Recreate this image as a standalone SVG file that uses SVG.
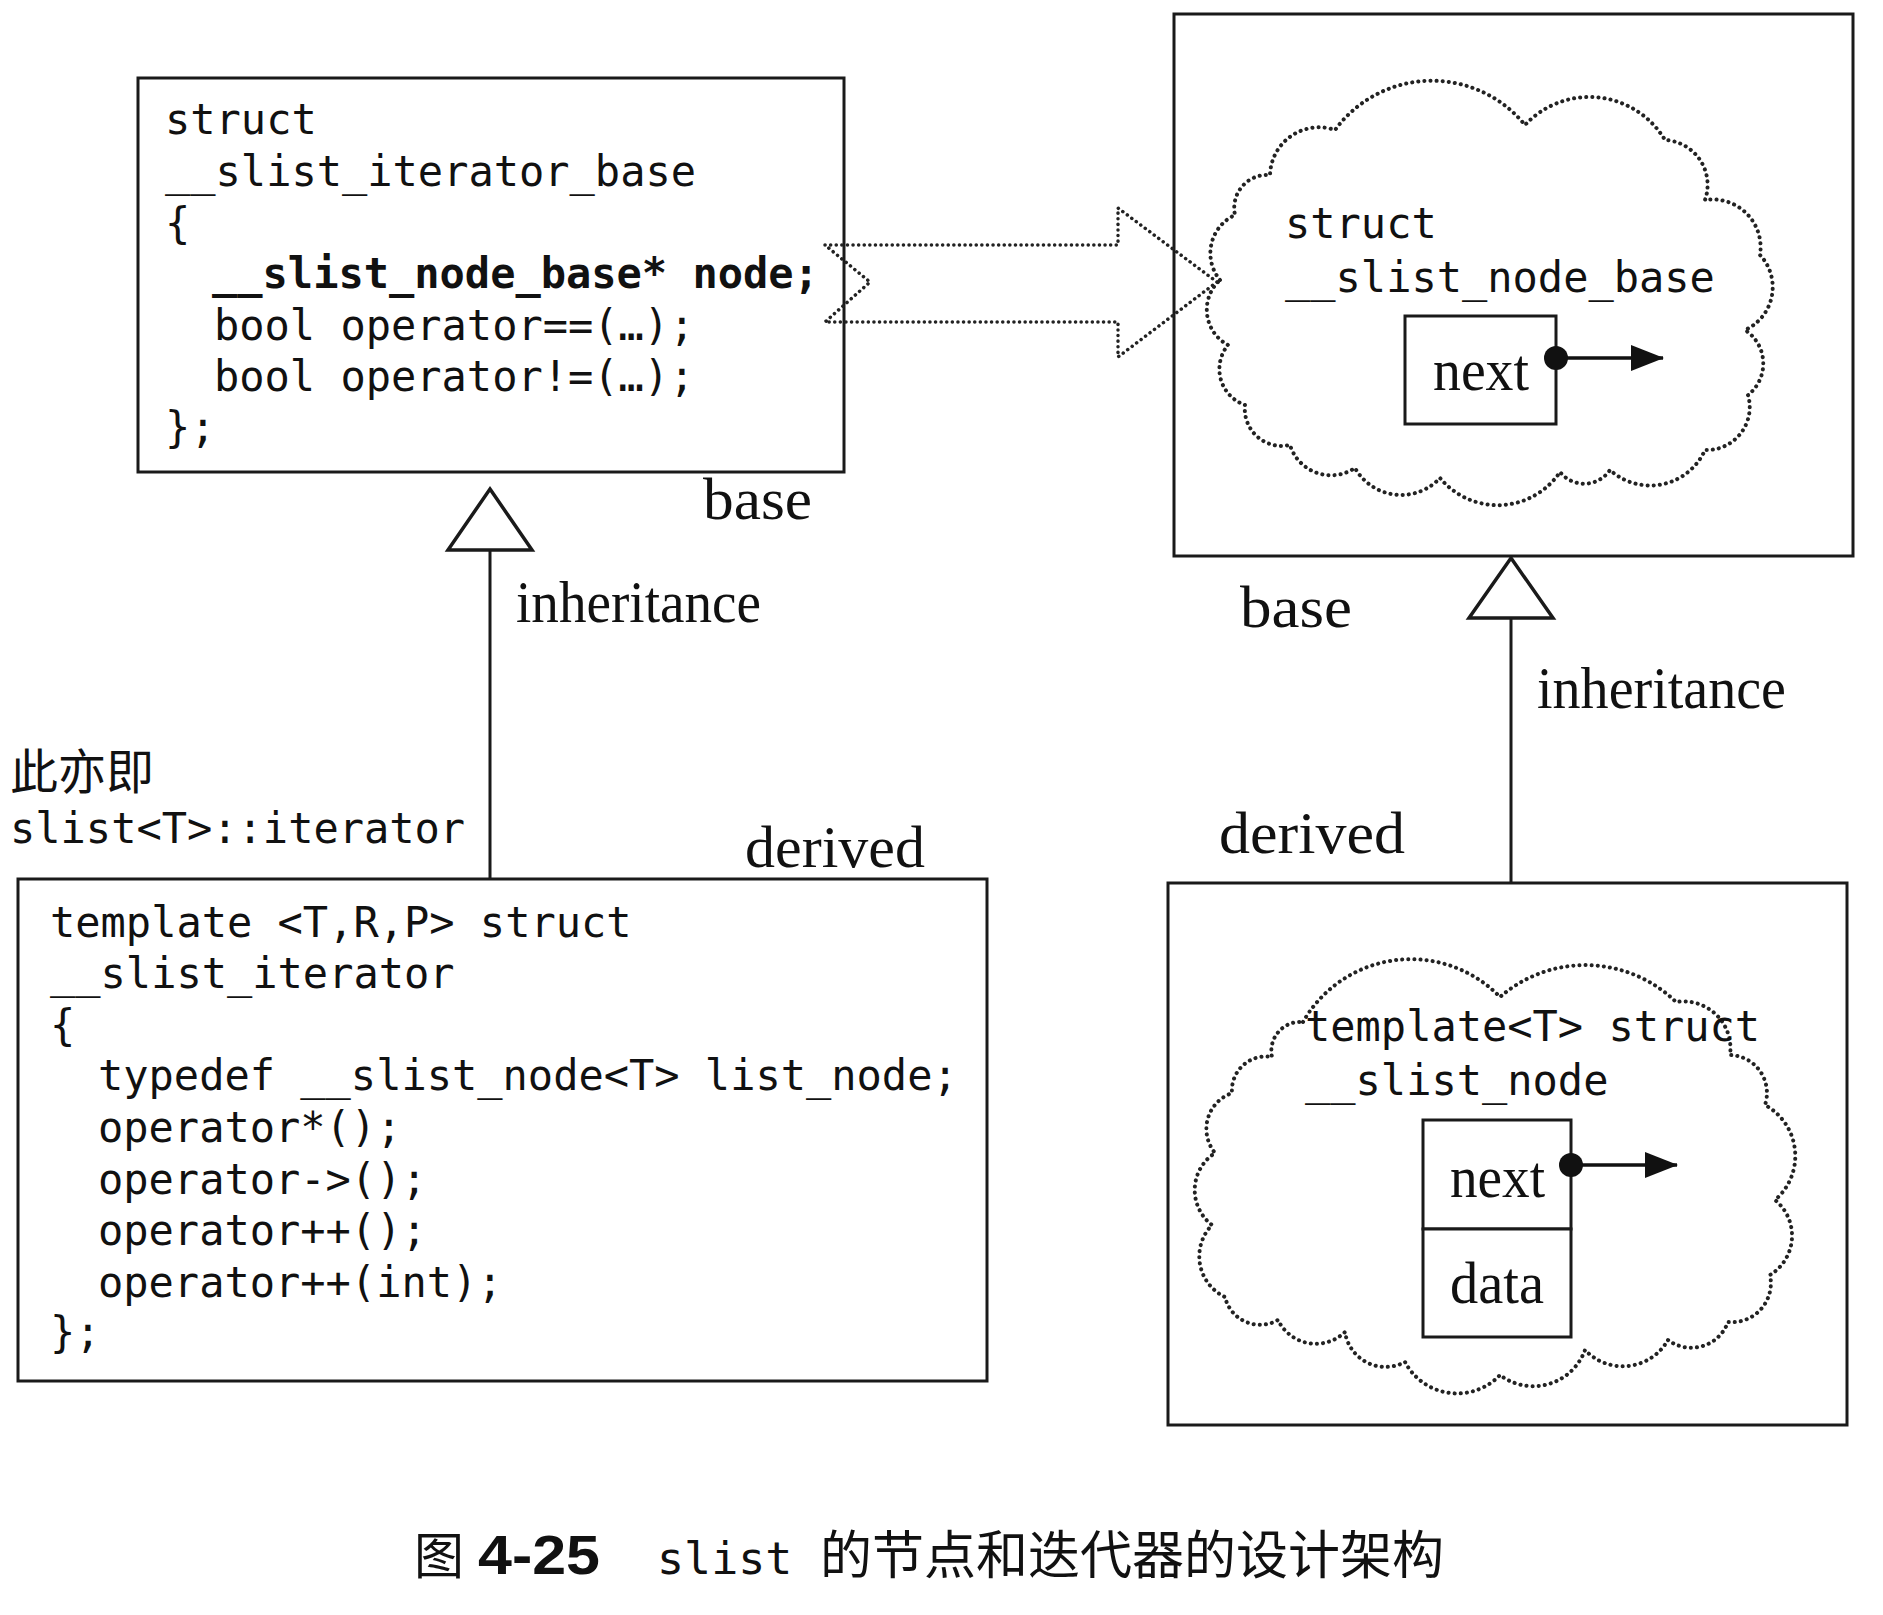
<svg xmlns="http://www.w3.org/2000/svg" width="1883" height="1615" viewBox="0 0 1883 1615">
<style>
.box{fill:none;stroke:#1a1a1a;stroke-width:3}
.cell{fill:#fff;stroke:#1a1a1a;stroke-width:3}
.code{font-family:"DejaVu Sans Mono","Liberation Mono",monospace;font-size:42px;fill:#111}
.lbl{font-family:"Liberation Serif","Times New Roman",serif;font-size:60px;fill:#111}
.cloud{fill:#fff;stroke:#222;stroke-width:4;stroke-dasharray:0.1 6;stroke-linecap:round;stroke-linejoin:round}
.dotted{fill:none;stroke:#222;stroke-width:3.5;stroke-dasharray:0.1 5.5;stroke-linecap:round}
.line{fill:none;stroke:#1a1a1a;stroke-width:3}
.tri{fill:#fff;stroke:#1a1a1a;stroke-width:3.5;stroke-linejoin:miter}
.ptr{fill:none;stroke:#111;stroke-width:3.5}
.cjk{font-family:"Noto Sans CJK SC",sans-serif;fill:#111}
</style>
<defs>
<marker id="ah" markerUnits="userSpaceOnUse" markerWidth="34" markerHeight="28" refX="32" refY="13" orient="auto">
<path d="M0,0 L33,13 L0,26 z" fill="#111"/>
</marker>
</defs>
<rect width="1883" height="1615" fill="#fff"/>

<g id="iterator_base">
<rect class="box" x="138" y="78" width="706" height="394"/>
<text class="code" x="165" y="134">struct</text>
<text class="code" x="165" y="186">__slist_iterator_base</text>
<text class="code" x="165" y="238">{</text>
<text class="code" x="212" y="288" font-weight="bold">__slist_node_base* node;</text>
<text class="code" x="214" y="340">bool operator==(…);</text>
<text class="code" x="214" y="391">bool operator!=(…);</text>
<text class="code" x="165" y="442">};</text>
</g>

<g id="node_base">
<rect class="box" x="1174" y="14" width="679" height="542"/>
<path class="cloud" d="M1220,280 A42,42 0 0 1 1235,215 A33,33 0 0 1 1270,175 A49,49 0 0 1 1335,130 A120,120 0 0 1 1525,125 A88,88 0 0 1 1665,140 A45,45 0 0 1 1705,200 A48,48 0 0 1 1760,255 A47,47 0 0 1 1745,330 A40,40 0 0 1 1748,395 A43,43 0 0 1 1705,450 A60,60 0 0 1 1610,470 A31,31 0 0 1 1560,472 A75,75 0 0 1 1440,478 A53,53 0 0 1 1355,468 A43,43 0 0 1 1290,445 A37,37 0 0 1 1245,405 A38,38 0 0 1 1228,345 A40,40 0 0 1 1220,280 Z"/>
<text class="code" x="1285" y="238">struct</text>
<text class="code" x="1285" y="292">__slist_node_base</text>
<rect class="cell" x="1405" y="316" width="151" height="108"/>
<text class="lbl" x="1433" y="390" textLength="96" lengthAdjust="spacingAndGlyphs">next</text>
<line class="ptr" x1="1556" y1="358" x2="1663" y2="358" marker-end="url(#ah)"/>
<circle cx="1556" cy="358" r="12" fill="#111"/>
</g>

<g id="slist_iterator">
<rect class="box" x="18" y="879" width="969" height="502"/>
<text class="code" x="50" y="937">template &lt;T,R,P&gt; struct</text>
<text class="code" x="50" y="988">__slist_iterator</text>
<text class="code" x="50" y="1040">{</text>
<text class="code" x="98" y="1090">typedef __slist_node&lt;T&gt; list_node;</text>
<text class="code" x="98" y="1142">operator*();</text>
<text class="code" x="98" y="1194">operator-&gt;();</text>
<text class="code" x="98" y="1245">operator++();</text>
<text class="code" x="98" y="1297">operator++(int);</text>
<text class="code" x="50" y="1347">};</text>
</g>

<g id="slist_node">
<rect class="box" x="1168" y="883" width="679" height="542"/>
<path class="cloud" d="M1303,1022 A124,124 0 0 1 1500,997 A130,130 0 0 1 1676,1002 A47,47 0 0 1 1730,1055 A38,38 0 0 1 1765,1105 A58,58 0 0 1 1775,1200 A46,46 0 0 1 1770,1275 A39,39 0 0 1 1728,1322 A39,39 0 0 1 1668,1340 A52,52 0 0 1 1585,1350 A55,55 0 0 1 1500,1375 A59,59 0 0 1 1405,1362 A41,41 0 0 1 1345,1332 A42,42 0 0 1 1278,1320 A36,36 0 0 1 1225,1297 A45,45 0 0 1 1212,1225 A44,44 0 0 1 1215,1153 A38,38 0 0 1 1232,1093 A34,34 0 0 1 1272,1057 A29,29 0 0 1 1303,1022 Z"/>
<text class="code" x="1305" y="1041">template&lt;T&gt; struct</text>
<text class="code" x="1305" y="1095">__slist_node</text>
<rect class="cell" x="1423" y="1120" width="148" height="109"/>
<rect class="cell" x="1423" y="1229" width="148" height="108"/>
<text class="lbl" x="1450" y="1197" textLength="95" lengthAdjust="spacingAndGlyphs">next</text>
<text class="lbl" x="1450" y="1303" textLength="94" lengthAdjust="spacingAndGlyphs">data</text>
<line class="ptr" x1="1571" y1="1165" x2="1677" y2="1165" marker-end="url(#ah)"/>
<circle cx="1571" cy="1165" r="12" fill="#111"/>
</g>

<g id="connectors">
<path class="dotted" d="M825,245 L1118,245 L1118,208 L1217,282 L1118,357 L1118,322 L825,322 L870,282 Z"/>
<line class="line" x1="490" y1="550" x2="490" y2="879"/>
<polygon class="tri" points="490,489 532,550 448,550"/>
<line class="line" x1="1511" y1="618" x2="1511" y2="883"/>
<polygon class="tri" points="1511,558 1553,618 1469,618"/>
</g>

<g id="labels">
<text class="lbl" x="703" y="519" textLength="109" lengthAdjust="spacingAndGlyphs">base</text>
<text class="lbl" x="516" y="622" textLength="245" lengthAdjust="spacingAndGlyphs">inheritance</text>
<text class="lbl" x="745" y="867" textLength="180" lengthAdjust="spacingAndGlyphs">derived</text>
<text class="lbl" x="1240" y="627" textLength="112" lengthAdjust="spacingAndGlyphs">base</text>
<text class="lbl" x="1537" y="708" textLength="249" lengthAdjust="spacingAndGlyphs">inheritance</text>
<text class="lbl" x="1219" y="853" textLength="186" lengthAdjust="spacingAndGlyphs">derived</text>
<text class="cjk" x="10" y="789" font-size="48">此亦即</text>
<text class="code" x="10" y="843">slist&lt;T&gt;::iterator</text>
</g>

<g id="caption">
<text class="cjk" x="414" y="1574" font-size="50">图</text>
<text x="478" y="1574" font-family="Liberation Sans,Arial,sans-serif" font-weight="bold" font-size="56" textLength="122" lengthAdjust="spacingAndGlyphs" fill="#111">4-25</text>
<text x="657" y="1574" font-family="DejaVu Sans Mono,monospace" font-size="45" fill="#111">slist</text>
<text class="cjk" x="820" y="1574" font-size="52">的节点和迭代器的设计架构</text>
</g>
</svg>
